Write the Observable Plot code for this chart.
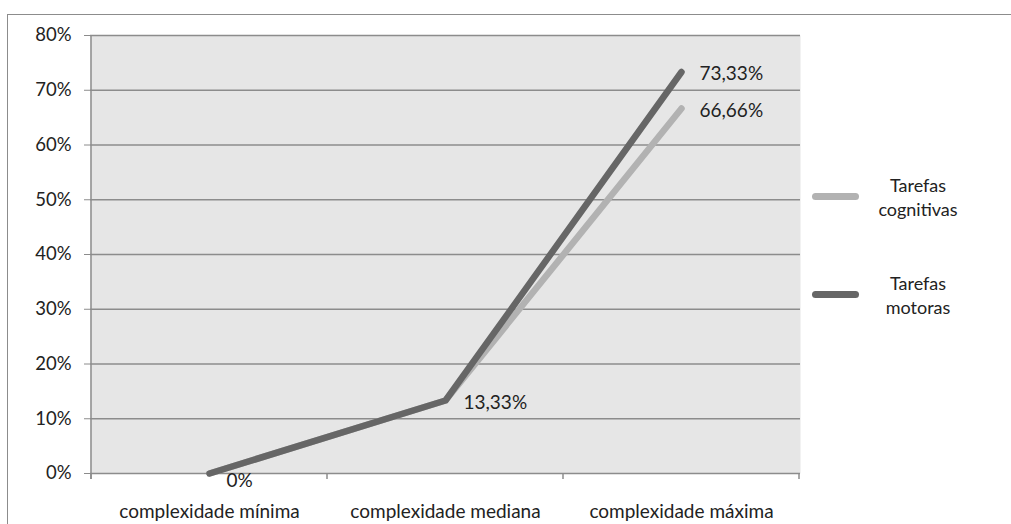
<!DOCTYPE html>
<html>
<head>
<meta charset="utf-8">
<script src="https://cdn.jsdelivr.net/npm/d3@7"></script>
<script src="https://cdn.jsdelivr.net/npm/@observablehq/plot@0.6"></script>
<style>
  html, body { margin: 0; padding: 0; background: #fff; }
  #wrap { position: relative; width: 1011px; height: 524px; overflow: hidden; font-family: Lato, "Open Sans", sans-serif; }
  #border { position: absolute; left: 7px; top: 14px; width: 1100px; height: 600px; border: 1px solid #8c8c8c; box-sizing: border-box; }
  #chart { position: absolute; left: 0; top: 0; }
  .leg { position: absolute; left: 812px; width: 190px; height: 60px; }
  .sw { position: absolute; left: 0; width: 47px; height: 7px; border-radius: 4px; }
  .lt { position: absolute; left: 58px; width: 96px; text-align: center; font-size: 18px; line-height: 24px; color: #222; }
</style>
</head>
<body>
<div id="wrap">
  <div id="border"></div>
  <div id="chart"></div>
  <div id="legend"></div>
</div>
<script>
const categories = ["complexidade mínima", "complexidade mediana", "complexidade máxima"];
const seriesNames = ["Tarefas cognitivas", "Tarefas motoras"];
const cognitivas = [0, 0.1333, 0.6666];
const motoras = [0, 0.1333, 0.7333];
const yTicks = [0, 0.1, 0.2, 0.3, 0.4, 0.5, 0.6, 0.7, 0.8];
const valueLabels = ["0%", "13,33%", "73,33%", "66,66%"];
const colors = ["#b2b2b2", "#666666"];

const data = [];
categories.forEach((c, i) => {
  data.push({cat: c, series: seriesNames[0], value: cognitivas[i]});
  data.push({cat: c, series: seriesNames[1], value: motoras[i]});
});
const labels = [
  {cat: categories[0], value: motoras[0], text: valueLabels[0]},
  {cat: categories[1], value: motoras[1], text: valueLabels[1]},
  {cat: categories[2], value: motoras[2], text: valueLabels[2]},
  {cat: categories[2], value: cognitivas[2], text: valueLabels[3]}
];

const font = "Lato, 'Open Sans', sans-serif";
const axisLines = (index, scales, values, dims) => {
  const g = d3.create("svg:g");
  const x = scales.x, bw = x.bandwidth();
  const xs = new Set();
  categories.forEach(c => { xs.add(x(c)); xs.add(x(c) + bw); });
  const y0 = dims.height - dims.marginBottom;
  for (const px of xs) {
    g.append("line").attr("x1", px).attr("x2", px).attr("y1", y0).attr("y2", y0 + 6)
      .attr("stroke", "#8c8c8c").attr("stroke-width", 1.5);
  }
  const xl = x(categories[0]);
  g.append("line").attr("x1", xl).attr("x2", xl).attr("y1", dims.marginTop).attr("y2", y0 + 6)
    .attr("stroke", "#8c8c8c").attr("stroke-width", 1.5);
  return g.node();
};

const chart = Plot.plot({
  width: 1011,
  height: 524,
  marginLeft: 90,
  marginRight: 211,
  marginTop: 35,
  marginBottom: 51,
  style: {background: "transparent", fontFamily: font, fontSize: "18px", color: "#222"},
  x: {type: "band", domain: categories, padding: 0, label: null},
  y: {domain: [0, 0.8], label: null},
  color: {domain: seriesNames, range: colors},
  marks: [
    Plot.frame({fill: "#e6e6e6", stroke: null}),
    Plot.ruleY(yTicks, {stroke: "#8c8c8c", strokeWidth: 1.5, strokeOpacity: 1}),
    Plot.axisY({ticks: yTicks, tickFormat: d => Math.round(d * 100) + "%", tickSize: 6, tickPadding: 13, stroke: "#8c8c8c", fontSize: 18.5, fill: "#222", label: null}),
    Plot.axisX({tickSize: 0, tickPadding: 31, fontSize: 19, fill: "#222", label: null}),
    axisLines,
    Plot.line(data.filter(d => d.series === seriesNames[0]), {x: "cat", y: "value", stroke: "series", strokeWidth: 6.5, strokeLinecap: "round", strokeLinejoin: "round"}),
    Plot.line(data.filter(d => d.series === seriesNames[1]), {x: "cat", y: "value", stroke: "series", strokeWidth: 6.5, strokeLinecap: "round", strokeLinejoin: "round"}),
    Plot.text(labels.slice(0, 1), {x: "cat", y: "value", text: "text", textAnchor: "start", dx: 17, dy: 7, fontSize: 19, fill: "#222"}),
    Plot.text(labels.slice(1), {x: "cat", y: "value", text: "text", textAnchor: "start", dx: 18, dy: 2, fontSize: 19, fill: "#222"})
  ]
});
document.getElementById("chart").appendChild(chart);

// Legend
const legend = document.getElementById("legend");
const legTops = [167, 265];
seriesNames.forEach((name, i) => {
  const parts = name.split(" ");
  const div = document.createElement("div");
  div.className = "leg";
  div.style.top = legTops[i] + "px";
  div.innerHTML = `<div class="sw" style="top:${26}px;background:${colors[i]}"></div>` +
    `<div class="lt" style="top:6px">${parts[0]}<br>${parts[1]}</div>`;
  legend.appendChild(div);
});
</script>
</body>
</html>
